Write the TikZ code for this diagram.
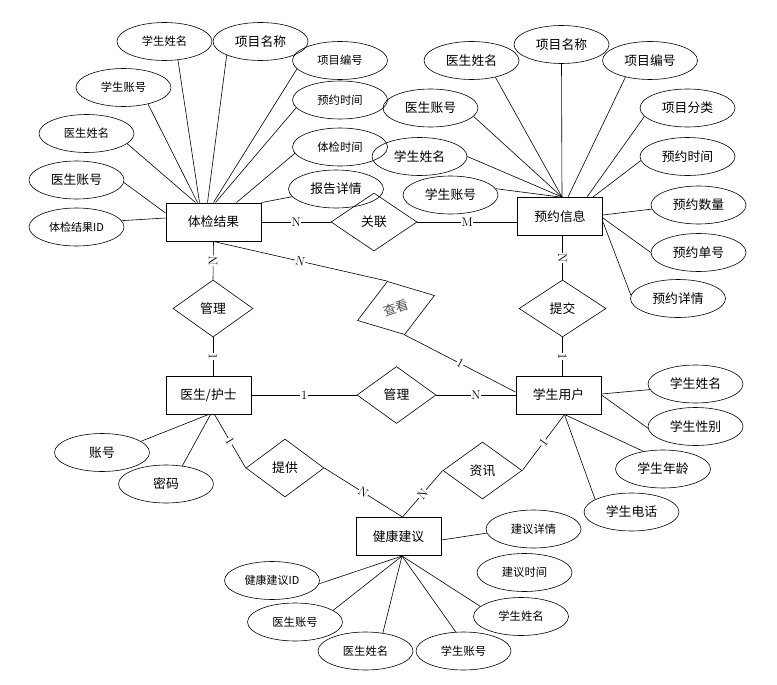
\documentclass[tikz,border=0pt]{standalone}
\usepackage{fontspec}
\newfontfamily\cjk{Noto Sans CJK SC}
\usetikzlibrary{shapes.geometric}

\begin{document}
\begin{tikzpicture}[x=1pt,y=-1pt,line width=0.6pt,
    entity/.style={rectangle,draw,line width=1pt,minimum width=85pt,minimum height=38pt,inner sep=0pt,font=\cjk\fontsize{12.8}{14}\selectfont},
    attrib/.style={ellipse,draw,minimum width=95pt,minimum height=38pt,inner sep=0pt,font=\cjk\fontsize{12.8}{14}\selectfont},
    sattr/.style={attrib,font=\cjk\fontsize{11.3}{13}\selectfont},
    rel/.style={diamond,draw,minimum width=80pt,minimum height=57pt,inner sep=0pt,font=\cjk\fontsize{12.8}{14}\selectfont},
    card/.style={sloped,fill=white,inner sep=0.6pt,font=\fontsize{12.5}{13}\selectfont}]
\useasboundingbox (0,0) rectangle (777,685);

% entities
\node[entity,minimum width=95pt] (jg) at (213.5,222)   {体检结果};
\node[entity]                    (yy) at (560,216.5)   {预约信息};
\node[entity]                    (ys) at (208.5,395)   {医生/护士};
\node[entity]                    (xs) at (558.5,395)   {学生用户};
\node[entity]                    (jk) at (398.5,536.5) {健康建议};

% relationships
\node[rel,minimum width=86pt,minimum height=58pt] (gl)  at (374,222)     {关联};
\node[rel]                                        (gla) at (213,308.5)   {管理};
\node[rel,minimum width=87pt]                     (tj)  at (562.5,308.5) {提交};
\node[rel,rotate=18,minimum width=81pt,minimum height=56pt,text=black!70] (ck) at (396,308) {查看};
\node[rel,minimum width=79pt]                     (glb) at (396.5,395)   {管理};
\node[rel,minimum width=78pt,minimum height=58pt] (tg)  at (285,468)     {提供};
\node[rel,minimum width=79pt]                     (zx)  at (482.5,470.5) {资讯};

% attributes of 体检结果
\node[sattr]  (t1)  at (164.5,41.5) {学生姓名};
\node[attrib] (t2)  at (260.5,41.5) {项目名称};
\node[sattr]  (t3)  at (340,60.5)   {项目编号};
\node[sattr]  (t4)  at (123.5,87.5) {学生账号};
\node[sattr]  (t5)  at (340,100)    {预约时间};
\node[sattr]  (t6)  at (86.5,133.5) {医生姓名};
\node[sattr]  (t7)  at (340,147)    {体检时间};
\node[attrib] (t8)  at (76.5,180)   {医生账号};
\node[attrib] (t9)  at (336,189)    {报告详情};
\node[sattr,font=\cjk\fontsize{11}{13}\selectfont] (t10) at (76.5,227) {体检结果ID};

% attributes of 预约信息
\node[attrib] (y1)  at (471.5,60.5)  {医生姓名};
\node[attrib] (y2)  at (561.5,44.5)  {项目名称};
\node[attrib] (y3)  at (650,60.5)    {项目编号};
\node[attrib] (y4)  at (430.5,108)   {医生账号};
\node[attrib] (y5)  at (687.5,108)   {项目分类};
\node[attrib] (y6)  at (419.5,156.5) {学生姓名};
\node[attrib] (y7)  at (687.5,156.5) {预约时间};
\node[attrib] (y8)  at (450.5,195)   {学生账号};
\node[attrib] (y9)  at (698.5,205)   {预约数量};
\node[attrib] (y10) at (698.5,252.5) {预约单号};
\node[attrib] (y11) at (678,298.5)   {预约详情};

% attributes of 医生/护士 and 学生用户
\node[attrib] (d1) at (102,452.5)   {账号};
\node[attrib] (d2) at (166,484)     {密码};
\node[attrib] (x1) at (695.5,384)   {学生姓名};
\node[attrib] (x2) at (695.5,426.5) {学生性别};
\node[attrib] (x3) at (663,469)     {学生年龄};
\node[attrib] (x4) at (631.5,512)   {学生电话};

% attributes of 健康建议
\node[sattr] (k1) at (533.5,529)   {建议详情};
\node[sattr] (k2) at (524.5,572.5) {建议时间};
\node[sattr,font=\cjk\fontsize{11}{13}\selectfont] (k3) at (272,580.5) {健康建议ID};
\node[sattr] (k4) at (295,622)     {医生账号};
\node[sattr] (k5) at (365.5,651)   {医生姓名};
\node[sattr] (k6) at (463.5,651)   {学生账号};
\node[sattr] (k7) at (521,616.5)   {学生姓名};

% attribute links
\draw (t1.-54) -- ([xshift=-14pt]jg.north);
\draw (t2.202) -- ([xshift=-6pt]jg.north);
\draw (t3.191) -- (jg.north);
\draw (t4.-34) -- ([xshift=-16pt]jg.north);
\draw (t5.190) -- ([xshift=2pt]jg.north);
\draw (t6.-14) -- ([xshift=-18pt]jg.north);
\draw (t7.188) -- ([xshift=23pt]jg.north);
\draw (t8.-3)  -- ([yshift=9pt]jg.west);
\draw (t9.190) -- (jg.north east);
\draw (t10.8)  -- ([yshift=4pt]jg.west);

\draw (y1.-35)  -- ([xshift=2pt]yy.north);
\draw (y2.south) -- ([xshift=2pt]yy.north);
\draw (y3.214)  -- ([xshift=8pt]yy.north);
\draw (y4.-11)  -- ([xshift=2pt]yy.north);
\draw (y5.191)  -- ([xshift=27pt]yy.north);
\draw (y6.east) -- ([xshift=2pt]yy.north);
\draw (y7.185)  -- ([xshift=33pt]yy.north);
\draw (y8.8)    -- (yy.north);
\draw (y9.185)  -- ([yshift=1.5pt]yy.east);
\draw (y10.180) -- ([yshift=-1.5pt]yy.east);
\draw (y11.176) -- ([yshift=-5.5pt]yy.east);

\draw (d1.16) -- (ys.south);
\draw (d2.48) -- ([xshift=2pt]ys.south);
\draw (x1.187) -- ([yshift=1pt]xs.east);
\draw (x2.182) -- (xs.east);
\draw (x3.138) -- ([xshift=6pt]xs.south);
\draw (x4.161) -- ([xshift=6pt]xs.south);

\draw (k1.185) -- ([yshift=-3.5pt]jk.east);
\draw (k3.-4)  -- ([xshift=3.5pt]jk.south);
\draw (k4.17)  -- ([xshift=3.5pt]jk.south);
\draw (k5.46)  -- ([xshift=3.5pt]jk.south);
\draw (k6.112) -- ([xshift=3.5pt]jk.south);
\draw (k7.166) -- ([xshift=3.5pt]jk.south);

% relationship links
\draw (jg) -- node[card]{N} (gl);
\draw (gl.east) -- node[card]{M} (gl.east -| yy.west);
\draw (jg.south) -- node[card]{N} (gla.north);
\draw (gla.south) -- node[card]{1} (gla.south |- ys.north);
\draw (tj.north |- yy.south) -- node[card]{N} (tj.north);
\draw (tj.south) -- node[card]{1} (tj.south |- xs.north);
\draw (jg.south) -- node[card]{N} (ck.north);
\draw (ck.south) -- node[card]{1} ([yshift=3pt]xs.west);
\draw (ys) -- node[card]{1} (glb);
\draw (glb) -- node[card]{N} (xs);
\draw ([xshift=6pt]ys.south) -- node[card]{1} (tg.west);
\draw (tg.east) -- node[card]{N} ([xshift=4pt]jk.north);
\draw (zx.west) -- node[card]{N} ([xshift=4pt]jk.north);
\draw (zx.east) -- node[card]{1} ([xshift=6pt]xs.south);
\end{tikzpicture}
\end{document}
